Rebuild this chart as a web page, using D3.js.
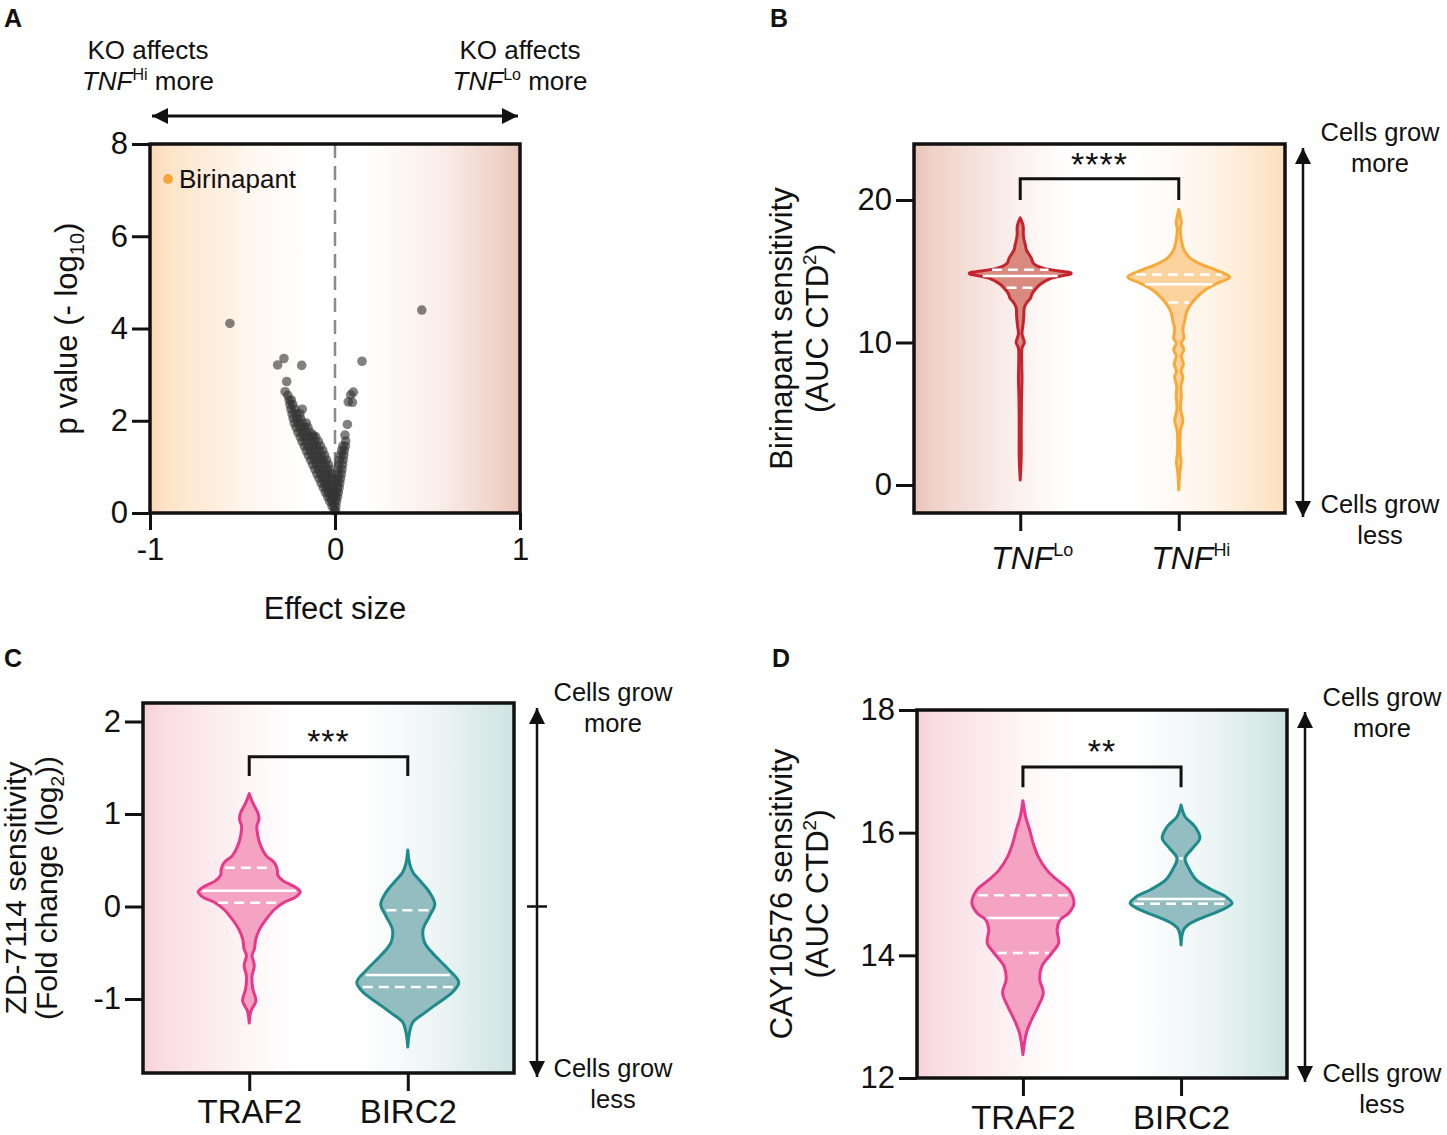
<!DOCTYPE html>
<html><head><meta charset="utf-8">
<script src="https://cdn.jsdelivr.net/npm/d3@7"></script>
<style>
body{margin:0;background:#fff}
text{font-family:Arial,"Liberation Sans",Helvetica,sans-serif;fill:#111}
</style>
</head><body>
<svg id="chart" width="1447" height="1135"></svg>
<script>
// ---------------- DATA ----------------
// Panel A: volcano plot [effect size, -log10 p]
const volcanoPoints = [
 [-0.004,0.05],[0.003,0.05],
 [-0.016,0.15],[-0.006,0.15],[0.005,0.15],
 [-0.028,0.25],[-0.016,0.25],[-0.004,0.25],[0.008,0.25],
 [-0.04,0.35],[-0.026,0.35],[-0.012,0.35],[0.004,0.35],[0.014,0.35],
 [-0.052,0.45],[-0.036,0.45],[-0.02,0.45],[-0.006,0.45],[0.008,0.45],[0.018,0.45],
 [-0.063,0.55],[-0.046,0.55],[-0.029,0.55],[-0.012,0.55],[0.01,0.55],[0.022,0.55],
 [-0.075,0.65],[-0.056,0.65],[-0.038,0.65],[-0.02,0.65],[0.012,0.65],[0.026,0.65],
 [-0.086,0.75],[-0.066,0.75],[-0.046,0.75],[-0.026,0.75],[-0.013,0.75],[0.014,0.75],[0.03,0.75],
 [-0.098,0.85],[-0.077,0.85],[-0.056,0.85],[-0.035,0.85],[-0.018,0.85],[0.016,0.85],[0.034,0.85],
 [-0.109,0.95],[-0.088,0.95],[-0.066,0.95],[-0.044,0.95],[-0.026,0.95],[0.018,0.95],[0.038,0.95],
 [-0.121,1.05],[-0.1,1.05],[-0.078,1.05],[-0.056,1.05],[-0.036,1.05],[0.02,1.05],[0.041,1.05],
 [-0.132,1.15],[-0.11,1.15],[-0.088,1.15],[-0.066,1.15],[-0.046,1.15],[0.024,1.15],[0.044,1.15],
 [-0.144,1.25],[-0.122,1.25],[-0.1,1.25],[-0.078,1.25],[-0.056,1.25],[0.028,1.25],[0.047,1.25],
 [-0.155,1.35],[-0.133,1.35],[-0.11,1.35],[-0.088,1.35],[-0.066,1.35],[0.036,1.35],[0.05,1.35],
 [-0.166,1.45],[-0.144,1.45],[-0.12,1.45],[-0.098,1.45],[-0.078,1.45],[0.042,1.45],[0.056,1.45],
 [-0.178,1.55],[-0.155,1.55],[-0.132,1.55],[-0.11,1.55],[-0.09,1.55],
 [-0.188,1.65],[-0.166,1.65],[-0.144,1.65],[-0.122,1.65],[-0.104,1.65],
 [-0.2,1.75],[-0.178,1.75],[-0.156,1.75],[-0.134,1.75],
 [-0.21,1.85],[-0.188,1.85],[-0.166,1.85],[-0.146,1.85],
 [-0.22,1.95],[-0.198,1.95],[-0.176,1.95],[-0.155,1.95],
 [-0.226,2.05],[-0.206,2.05],[-0.186,2.05],
 [-0.232,2.15],[-0.21,2.15],[-0.19,2.15],
 [-0.238,2.25],[-0.216,2.25],[-0.177,2.25],
 [-0.243,2.35],[-0.228,2.35],
 [-0.248,2.45],[-0.236,2.45],
 [-0.255,2.55],[-0.27,2.63],[-0.261,2.85],[-0.117,1.69],
 [-0.31,3.21],[-0.276,3.35],[-0.18,3.2],[-0.568,4.11],
 [0.469,4.40],[0.146,3.29],[0.099,2.62],[0.085,2.56],[0.072,2.41],[0.094,2.40],
 [0.067,1.92],[0.054,1.69],[0.058,1.56]
];
const volcanoXTicks = [-1, 0, 1];
const volcanoYTicks = [0, 2, 4, 6, 8];

// Panel B: Birinapant violins  [value, relative half-width]
const birinapantGroups = ["TNFLo", "TNFHi"];
const birinapantTNFLo = [
 [18.75,0],[18.4,0.04],[18.1,0.06],[17.6,0.06],[17.3,0.07],[16.85,0.1],[16.5,0.12],
 [16.2,0.17],[15.9,0.22],[15.55,0.26],[15.2,0.46],[14.85,1.0],[14.5,0.6],[14.1,0.4],
 [13.75,0.3],[13.4,0.23],[13.1,0.2],[12.8,0.13],[12.45,0.08],[11.8,0.07],[11.1,0.05],
 [10.6,0.035],[10.0,0.08],[9.6,0.035],[8.5,0.03],[7.5,0.035],[6.0,0.025],[4.0,0.02],
 [2.0,0.02],[0.35,0]
];
const birinapantTNFHi = [
 [19.35,0],[18.85,0.03],[18.4,0.05],[18.0,0.03],[17.2,0.05],[16.5,0.1],[15.9,0.23],
 [15.45,0.46],[15.1,0.72],[14.6,1.0],[14.15,0.75],[13.7,0.52],[13.2,0.36],[12.75,0.25],
 [12.2,0.16],[11.6,0.12],[10.9,0.08],[10.3,0.1],[9.95,0.05],[9.5,0.1],[9.05,0.05],
 [8.5,0.09],[8.0,0.045],[7.6,0.08],[6.9,0.04],[6.3,0.05],[5.3,0.035],[4.5,0.08],
 [3.9,0.035],[2.3,0.025],[1.6,0.045],[0.9,0.02],[-0.35,0]
];
const birinapantQuartiles = [[15.1,14.67,13.85],[14.78,14.08,12.8]];
const birinapantTicks = [0, 10, 20];

// Panel C: ZD-7114 violins
const zdGroups = ["TRAF2", "BIRC2"];
const zdTRAF2 = [
 [1.22,0],[1.12,0.07],[1.01,0.17],[0.94,0.19],[0.87,0.15],[0.76,0.17],[0.65,0.23],
 [0.55,0.33],[0.47,0.5],[0.40,0.55],[0.34,0.56],[0.28,0.66],[0.21,0.9],[0.16,1.0],
 [0.11,0.93],[0.04,0.67],[-0.03,0.5],[-0.14,0.33],[-0.25,0.2],[-0.35,0.13],[-0.46,0.1],
 [-0.53,0.055],[-0.64,0.1],[-0.75,0.055],[-0.89,0.07],[-1.02,0.13],[-1.13,0.035],[-1.26,0]
];
const zdBIRC2 = [
 [0.61,0],[0.47,0.035],[0.37,0.1],[0.26,0.27],[0.15,0.43],[0.025,0.53],[-0.10,0.43],
 [-0.25,0.3],[-0.39,0.33],[-0.53,0.53],[-0.68,0.8],[-0.82,1.0],[-0.93,0.87],[-1.04,0.6],
 [-1.15,0.33],[-1.25,0.1],[-1.36,0.035],[-1.52,0]
];
const zdQuartiles = [[0.42,0.17,0.04],[-0.04,-0.74,-0.87]];
const zdTicks = [-1, 0, 1, 2];

// Panel D: CAY10576 violins
const cayGroups = ["TRAF2", "BIRC2"];
const cayTRAF2 = [
 [16.52,0],[16.26,0.053],[16.05,0.13],[15.83,0.2],[15.61,0.3],[15.39,0.47],[15.23,0.67],
 [15.07,0.9],[14.85,1.0],[14.69,0.9],[14.58,0.73],[14.42,0.67],[14.2,0.7],[14.04,0.57],
 [13.82,0.37],[13.6,0.33],[13.39,0.4],[13.17,0.3],[12.95,0.17],[12.73,0.067],[12.38,0]
];
const cayBIRC2 = [
 [16.45,0],[16.26,0.08],[16.1,0.27],[15.91,0.37],[15.75,0.23],[15.58,0.08],[15.39,0.17],
 [15.23,0.3],[15.07,0.6],[14.96,0.87],[14.85,1.0],[14.74,0.8],[14.63,0.47],[14.53,0.2],
 [14.42,0.053],[14.17,0]
];
const cayQuartiles = [[14.98,14.61,14.04],[15.58,14.92,14.84]];
const cayTicks = [12, 14, 16, 18];

const significance = ["****", "***", "**"];

// ---------------- DRAWING ----------------
const svg = d3.select("#chart");
const defs = svg.append("defs");
const TICK_FS = 31;
const plainFmt = d => String(d);

function gradient(id, stops){
  const g = defs.append("linearGradient").attr("id", id).attr("x1","0").attr("x2","1").attr("y1","0").attr("y2","0");
  stops.forEach(s => g.append("stop").attr("offset", s[0]).attr("stop-color", s[1]));
}
gradient("gA", [[0,"#fbd9b3"],[0.05,"#fde4c9"],[0.28,"#fff7f0"],[0.42,"#ffffff"],[0.58,"#ffffff"],[0.78,"#faeee9"],[0.95,"#efd1c7"],[1,"#e9c2b7"]]);
gradient("gB", [[0,"#e9c2b8"],[0.05,"#efd1c8"],[0.28,"#fbf1ee"],[0.42,"#ffffff"],[0.6,"#ffffff"],[0.8,"#fef4e9"],[0.95,"#fde5c9"],[1,"#fcdfbd"]]);
gradient("gC", [[0,"#f7d0d9"],[0.05,"#f9dce3"],[0.3,"#fef7f8"],[0.42,"#ffffff"],[0.58,"#ffffff"],[0.78,"#eef6f5"],[0.95,"#d5e8e6"],[1,"#cce3e1"]]);

defs.append("marker").attr("id","arrow").attr("viewBox","0 0 10 10").attr("refX",10).attr("refY",5)
  .attr("markerWidth",16).attr("markerHeight",16).attr("markerUnits","userSpaceOnUse")
  .attr("orient","auto-start-reverse")
  .append("path").attr("d","M0,0 L10,5 L0,10 Z").attr("fill","#111");

function frame(x0, x1, y0, y1, grad){
  svg.append("rect").attr("x",x0).attr("y",y0).attr("width",x1-x0).attr("height",y1-y0)
    .attr("fill","url(#"+grad+")");
}
function frameBorder(x0, x1, y0, y1){
  svg.append("rect").attr("x",x0).attr("y",y0).attr("width",x1-x0).attr("height",y1-y0)
    .attr("fill","none").attr("stroke","#111").attr("stroke-width",3.5);
}
function styleAxis(g, size){
  g.select(".domain").remove();
  g.selectAll(".tick line").attr("stroke","#111").attr("stroke-width",3);
  g.selectAll(".tick text").attr("font-size", size).attr("fill","#111")
    .style("font-family","Arial, 'Liberation Sans', sans-serif");
}
function panelLetter(x, y, t){
  svg.append("text").attr("x",x).attr("y",y).attr("font-size",25).attr("font-weight","bold").text(t);
}
function vArrow(x, y0, y1){
  svg.append("line").attr("x1",x).attr("x2",x).attr("y1",y0).attr("y2",y1)
    .attr("stroke","#111").attr("stroke-width",2.5)
    .attr("marker-start","url(#arrow)").attr("marker-end","url(#arrow)");
}
function growText(cx, yTop, yBot){
  const add = (y, t) => svg.append("text").attr("x",cx).attr("y",y).attr("text-anchor","middle").attr("font-size",25.5).text(t);
  add(yTop, "Cells grow"); add(yTop+31, "more");
  add(yBot, "Cells grow"); add(yBot+31, "less");
}
function bracket(x0, x1, yTop, yLeg, stars, starY){
  svg.append("path").attr("d",`M${x0},${yLeg}V${yTop}H${x1}V${yLeg}`).attr("fill","none")
    .attr("stroke","#111").attr("stroke-width",3);
  svg.append("text").attr("x",(x0+x1)/2).attr("y",starY).attr("text-anchor","middle")
    .attr("font-size",34).attr("letter-spacing","1px").text(stars);
}
const halfW = d3.scaleLinear([0,1],[0,51]);
function violin(yScale, cx, profile, quart, stroke, fill){
  const area = d3.area().curve(d3.curveCatmullRom.alpha(0.5))
    .y(d => yScale(d[0])).x0(d => cx - halfW(d[1])).x1(d => cx + halfW(d[1]));
  svg.append("path").attr("d", area(profile)).attr("fill", fill).attr("stroke", stroke)
    .attr("stroke-width",3).attr("stroke-linejoin","round");
  const interp = d3.scaleLinear(profile.map(d=>d[0]), profile.map(d=>d[1]));
  quart.forEach((q,i) => {
    const hw = Math.max(2, halfW(interp(q)) - 3);
    svg.append("line").attr("x1",cx-hw).attr("x2",cx+hw).attr("y1",yScale(q)).attr("y2",yScale(q))
      .attr("stroke","#fff").attr("stroke-width",2.5)
      .attr("stroke-dasharray", i===1 ? null : "10,6");
  });
}

// ===== Panel A =====
{
  const x = d3.scaleLinear([-1,1],[150,520]);
  const y = d3.scaleLinear([0,8],[513,144]);
  frame(150,520,144,513,"gA");
  svg.append("line").attr("x1",x(0)).attr("x2",x(0)).attr("y1",y(8)).attr("y2",y(0))
    .attr("stroke","#8a8a8a").attr("stroke-width",2.5).attr("stroke-dasharray","14,8");
  svg.append("g").selectAll("circle").data(volcanoPoints).join("circle")
    .attr("cx", d => x(d[0])).attr("cy", d => y(d[1])).attr("r",4.8)
    .attr("fill","#333").attr("fill-opacity",0.62);
  frameBorder(150,520,144,513);
  styleAxis(svg.append("g").attr("transform","translate(150,0)")
    .call(d3.axisLeft(y).tickValues(volcanoYTicks).tickFormat(plainFmt).tickSize(18).tickPadding(4)), TICK_FS);
  styleAxis(svg.append("g").attr("transform","translate(0,513)")
    .call(d3.axisBottom(x).tickValues(volcanoXTicks).tickFormat(plainFmt).tickSize(17).tickPadding(8)), TICK_FS);
  svg.append("circle").attr("cx",168).attr("cy",179).attr("r",5).attr("fill","#f5a73b");
  svg.append("text").attr("x",179).attr("y",188).attr("font-size",26).text("Birinapant");
  const yt = svg.append("text").attr("transform",`translate(77,${(144+513)/2}) rotate(-90)`)
    .attr("text-anchor","middle").attr("font-size",31);
  yt.append("tspan").text("p value (- log");
  yt.append("tspan").attr("font-size",20).attr("dy",7).text("10");
  yt.append("tspan").attr("dy",-7).text(")");
  svg.append("text").attr("x",x(0)).attr("y",619).attr("text-anchor","middle").attr("font-size",31).text("Effect size");
  [[148,"Hi"],[520,"Lo"]].forEach(([cx, sup]) => {
    svg.append("text").attr("x",cx).attr("y",59).attr("text-anchor","middle").attr("font-size",26).text("KO affects");
    const t = svg.append("text").attr("x",cx).attr("y",90).attr("text-anchor","middle").attr("font-size",26);
    t.append("tspan").attr("font-style","italic").text("TNF");
    t.append("tspan").attr("font-size",16).attr("dy",-10).text(sup);
    t.append("tspan").attr("dy",10).text(" more");
  });
  svg.append("line").attr("x1",152).attr("x2",518).attr("y1",116).attr("y2",116)
    .attr("stroke","#111").attr("stroke-width",3)
    .attr("marker-start","url(#arrow)").attr("marker-end","url(#arrow)");
  panelLetter(4,27,"A");
}

// ===== Panel B =====
{
  const y = d3.scaleLinear([-2,24],[513.5,143]);
  const x = d3.scalePoint(birinapantGroups,[914,1285]).padding(0.67);
  frame(914,1285,144,513,"gB");
  violin(y, x("TNFLo"), birinapantTNFLo, birinapantQuartiles[0], "#c4242d", "#d98a7f");
  violin(y, x("TNFHi"), birinapantTNFHi, birinapantQuartiles[1], "#f7aa3a", "#fcd39d");
  frameBorder(914,1285,144,513);
  styleAxis(svg.append("g").attr("transform","translate(914,0)")
    .call(d3.axisLeft(y).tickValues(birinapantTicks).tickFormat(plainFmt).tickSize(18).tickPadding(4)), TICK_FS);
  const xa = svg.append("g").attr("transform","translate(0,513)")
    .call(d3.axisBottom(x).tickSize(18).tickFormat(""));
  styleAxis(xa, TICK_FS);
  birinapantGroups.forEach(gn => {
    const t = svg.append("text").attr("x", x(gn)+12).attr("y",569).attr("text-anchor","middle").attr("font-size",32);
    t.append("tspan").attr("font-style","italic").text("TNF");
    t.append("tspan").attr("font-size",18).attr("dy",-13).text(gn.slice(3));
  });
  bracket(x("TNFLo"), x("TNFHi"), y(21.5), y(20), significance[0], 176);
  const yt = svg.append("text").attr("transform",`translate(0,${(144+513)/2}) rotate(-90)`)
    .attr("text-anchor","middle").attr("font-size",31);
  yt.append("tspan").attr("x",0).attr("y",792).text("Birinapant sensitivity");
  yt.append("tspan").attr("x",0).attr("y",828).text("(AUC CTD");
  yt.append("tspan").attr("font-size",19).attr("dy",-12).text("2");
  yt.append("tspan").attr("dy",12).text(")");
  vArrow(1303,148,517);
  growText(1380,141,513);
  panelLetter(770,27,"B");
}

// ===== Panel C =====
{
  const y = d3.scaleLinear([-1.8,2.2],[1073,703]);
  const x = d3.scalePoint(zdGroups,[143,514]).padding(0.67);
  frame(143,514,703,1073,"gC");
  violin(y, x("TRAF2"), zdTRAF2, zdQuartiles[0], "#e8388b", "#f5a3c3");
  violin(y, x("BIRC2"), zdBIRC2, zdQuartiles[1], "#1d8b8b", "#93bdc0");
  frameBorder(143,514,703,1073);
  styleAxis(svg.append("g").attr("transform","translate(143,0)")
    .call(d3.axisLeft(y).tickValues(zdTicks).tickFormat(plainFmt).tickSize(18).tickPadding(4)), TICK_FS);
  styleAxis(svg.append("g").attr("transform","translate(0,1073)")
    .call(d3.axisBottom(x).tickSize(18).tickPadding(9)), 33);
  bracket(x("TRAF2"), x("BIRC2"), y(1.62), y(1.41), significance[1], 753);
  const yt = svg.append("text").attr("transform",`translate(0,${(703+1073)/2}) rotate(-90)`)
    .attr("text-anchor","middle").attr("font-size",30);
  yt.append("tspan").attr("x",0).attr("y",26).text("ZD-7114 sensitivity");
  yt.append("tspan").attr("x",0).attr("y",57).text("(Fold change (log");
  yt.append("tspan").attr("font-size",19).attr("dy",7).text("2");
  yt.append("tspan").attr("dy",-7).text("))");
  vArrow(537,708,1077);
  svg.append("line").attr("x1",527).attr("x2",547).attr("y1",y(0)).attr("y2",y(0))
    .attr("stroke","#111").attr("stroke-width",2.5);
  growText(613,701,1077);
  panelLetter(4,667,"C");
}

// ===== Panel D =====
{
  const y = d3.scaleLinear([12,18],[1078,710]);
  const x = d3.scalePoint(cayGroups,[917,1287]).padding(0.67);
  frame(917,1287,710,1078,"gC");
  violin(y, x("TRAF2"), cayTRAF2, cayQuartiles[0], "#e8388b", "#f5a3c3");
  violin(y, x("BIRC2"), cayBIRC2, cayQuartiles[1], "#1d8b8b", "#93bdc0");
  frameBorder(917,1287,710,1078);
  styleAxis(svg.append("g").attr("transform","translate(917,0)")
    .call(d3.axisLeft(y).tickValues(cayTicks).tickFormat(plainFmt).tickSize(18).tickPadding(4)), TICK_FS);
  styleAxis(svg.append("g").attr("transform","translate(0,1078)")
    .call(d3.axisBottom(x).tickSize(18).tickPadding(10)), 33);
  bracket(x("TRAF2"), x("BIRC2"), y(17.07), y(16.74), significance[2], 763);
  const yt = svg.append("text").attr("transform",`translate(0,${(710+1078)/2}) rotate(-90)`)
    .attr("text-anchor","middle").attr("font-size",31);
  yt.append("tspan").attr("x",0).attr("y",792).text("CAY10576 sensitivity");
  yt.append("tspan").attr("x",0).attr("y",828).text("(AUC CTD");
  yt.append("tspan").attr("font-size",19).attr("dy",-12).text("2");
  yt.append("tspan").attr("dy",12).text(")");
  vArrow(1305,712,1082);
  growText(1382,706,1082);
  panelLetter(772,667,"D");
}
</script>
</body></html>
